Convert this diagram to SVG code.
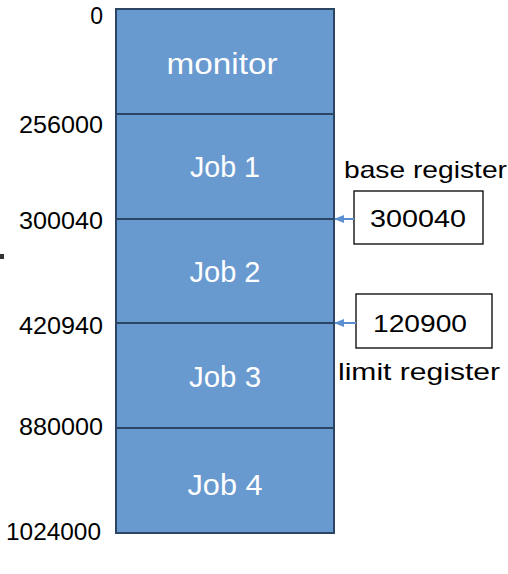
<svg xmlns="http://www.w3.org/2000/svg" width="508" height="574" viewBox="0 0 508 574">
<style>
.seg{fill:#6899CF;stroke:#2C4562;stroke-width:2}
.in{font-family:"Liberation Sans",Arial,sans-serif;font-size:30px;fill:#ffffff;text-anchor:middle}
.addr{font-family:"Liberation Sans",Arial,sans-serif;font-size:23px;fill:#000;text-anchor:end}
.lbl{font-family:"Liberation Sans",Arial,sans-serif;font-size:24px;fill:#000}
.box{fill:#fff;stroke:#000;stroke-width:1.3}
.arr{stroke:#5B8FCF;stroke-width:2;fill:none;marker-end:url(#ah)}
</style>
<defs>
<marker id="ah" markerWidth="10" markerHeight="8" refX="9" refY="4" orient="auto" markerUnits="userSpaceOnUse">
<path d="M0,0 L10,4 L0,8 Z" fill="#5B8FCF"/>
</marker>
</defs>
<rect width="508" height="574" fill="#fff"/>
<g id="monitor"><rect class="seg" x="116" y="9" width="218" height="105"/><text class="in" x="222" y="74" textLength="111" lengthAdjust="spacingAndGlyphs">monitor</text></g>
<g id="job1"><rect class="seg" x="116" y="114" width="218" height="105"/><text class="in" x="225" y="177" textLength="70" lengthAdjust="spacingAndGlyphs">Job 1</text></g>
<g id="job2"><rect class="seg" x="116" y="219" width="218" height="104"/><text class="in" x="225" y="282" textLength="71" lengthAdjust="spacingAndGlyphs">Job 2</text></g>
<g id="job3"><rect class="seg" x="116" y="323" width="218" height="105"/><text class="in" x="225" y="387" textLength="72" lengthAdjust="spacingAndGlyphs">Job 3</text></g>
<g id="job4"><rect class="seg" x="116" y="428" width="218" height="105"/><text class="in" x="225" y="495" textLength="75" lengthAdjust="spacingAndGlyphs">Job 4</text></g>
<g id="addresses">
<text class="addr" x="103" y="24">0</text>
<text class="addr" x="103" y="133" textLength="84" lengthAdjust="spacingAndGlyphs">256000</text>
<text class="addr" x="103" y="229" textLength="84" lengthAdjust="spacingAndGlyphs">300040</text>
<text class="addr" x="103" y="334" textLength="84" lengthAdjust="spacingAndGlyphs">420940</text>
<text class="addr" x="103" y="435" textLength="84" lengthAdjust="spacingAndGlyphs">880000</text>
<text class="addr" x="101" y="540" textLength="95" lengthAdjust="spacingAndGlyphs">1024000</text>
</g>
<g id="base-register">
<text class="lbl" x="344" y="178" textLength="163" lengthAdjust="spacingAndGlyphs">base register</text>
<rect class="box" x="354" y="191" width="129" height="53"/>
<text class="lbl" x="370" y="227" textLength="96" lengthAdjust="spacingAndGlyphs">300040</text>
</g>
<g id="limit-register">
<rect class="box" x="356" y="294" width="136" height="54"/>
<text class="lbl" x="373" y="332" textLength="94" lengthAdjust="spacingAndGlyphs">120900</text>
<text class="lbl" x="338" y="380" textLength="162" lengthAdjust="spacingAndGlyphs">limit register</text>
</g>
<g id="connectors">
<line class="arr" x1="354" y1="219" x2="335" y2="219"/>
<line class="arr" x1="356" y1="323" x2="335" y2="323"/>
</g>
<rect x="0" y="254" width="4" height="5" fill="#333"/>
</svg>
